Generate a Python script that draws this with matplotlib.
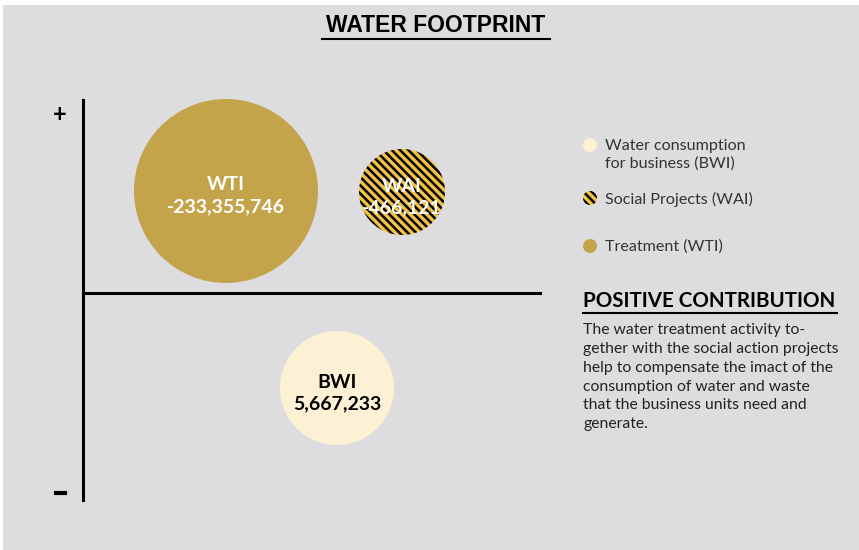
import matplotlib.pyplot as plt
from matplotlib.patches import Circle

# water footprint indicators
names = ["WTI", "WAI", "BWI"]
values = [-233355746, -466121, 5667233]
legend_labels = ["Water consumption\nfor business (BWI)", "Social Projects (WAI)", "Treatment (WTI)"]
legend_keys = ["BWI", "WAI", "WTI"]

body = ("The water treatment activity to-\n"
        "gether with the social action projects\n"
        "help to compensate the imact of the\n"
        "consumption of water and waste\n"
        "that the business units need and\n"
        "generate.")

bg = "#dddde0"
styles = {
    "WTI": dict(facecolor="#c4a44b", hatch=None, txt="white"),
    "WAI": dict(facecolor="#f2c143", hatch="\\\\\\\\", txt="white"),
    "BWI": dict(facecolor="#fcf1d5", hatch=None, txt="black"),
}
# where each bubble sits (pixel units) and how big it is
spots = {"WTI": (226, 191, 92), "WAI": (402, 192, 43), "BWI": (337, 388, 57)}

plt.rcParams["font.family"] = ["Lato", "DejaVu Sans"]
plt.rcParams["hatch.linewidth"] = 1.8

fig = plt.figure(figsize=(8.59, 5.50), dpi=100)
fig.patch.set_facecolor("white")
ax = fig.add_axes([0, 0, 1, 1])
ax.set_xlim(0, 859)
ax.set_ylim(550, 0)
ax.set_aspect("equal")
ax.axis("off")

# grey panel
ax.add_patch(plt.Rectangle((3, 5), 856, 545, facecolor=bg, edgecolor="none", zorder=0))

# title
ax.text(436, 26, "WATER FOOTPRINT", ha="center", va="center", fontsize=16.5,
        fontweight="bold", family=["Liberation Sans", "DejaVu Sans"], color="black")
ax.plot([322, 550], [38.5, 38.5], color="black", lw=1.5)

# axes cross
ax.plot([83, 83], [100, 500], color="black", lw=2.2)
ax.plot([83, 540], [293, 293], color="black", lw=2.2)
ax.text(60, 115, "+", ha="center", va="center", fontsize=17, fontweight="bold")
ax.plot([56, 65], [493, 493], color="black", lw=3)

# bubbles
for n, v in zip(names, values):
    cx, cy, r = spots[n]
    st = styles[n]
    ax.add_patch(Circle((cx, cy), r, facecolor=st["facecolor"], hatch=st["hatch"],
                        edgecolor="black", lw=0, zorder=2))
    ax.text(cx, cy - 6, n, ha="center", va="center", fontsize=14, fontweight="bold",
            color=st["txt"], zorder=3)
    ax.text(cx, cy + 16, f"{v:,}", ha="center", va="center", fontsize=14, fontweight="bold",
            color=st["txt"], zorder=3)

# legend
for i, (key, lab) in enumerate(zip(legend_keys, legend_labels)):
    y = [145, 198, 246][i]
    st = styles[key]
    ax.add_patch(Circle((590, y), 7, facecolor=st["facecolor"], hatch=st["hatch"],
                        edgecolor="black", lw=0))
    ax.text(605, y + 1 if i else y + 10, lab, ha="left", va="center", fontsize=11.6,
            color="#333333", linespacing=1.25)

# side note
ax.text(583, 301, "POSITIVE CONTRIBUTION", ha="left", va="center", fontsize=14.8,
        fontweight="bold", color="black")
ax.plot([583, 837], [313, 313], color="black", lw=1.5)
ax.text(583, 323, body, ha="left", va="top", fontsize=11.3, color="#222222", linespacing=1.44)

fig.savefig("out.png", dpi=100, facecolor=fig.get_facecolor())
